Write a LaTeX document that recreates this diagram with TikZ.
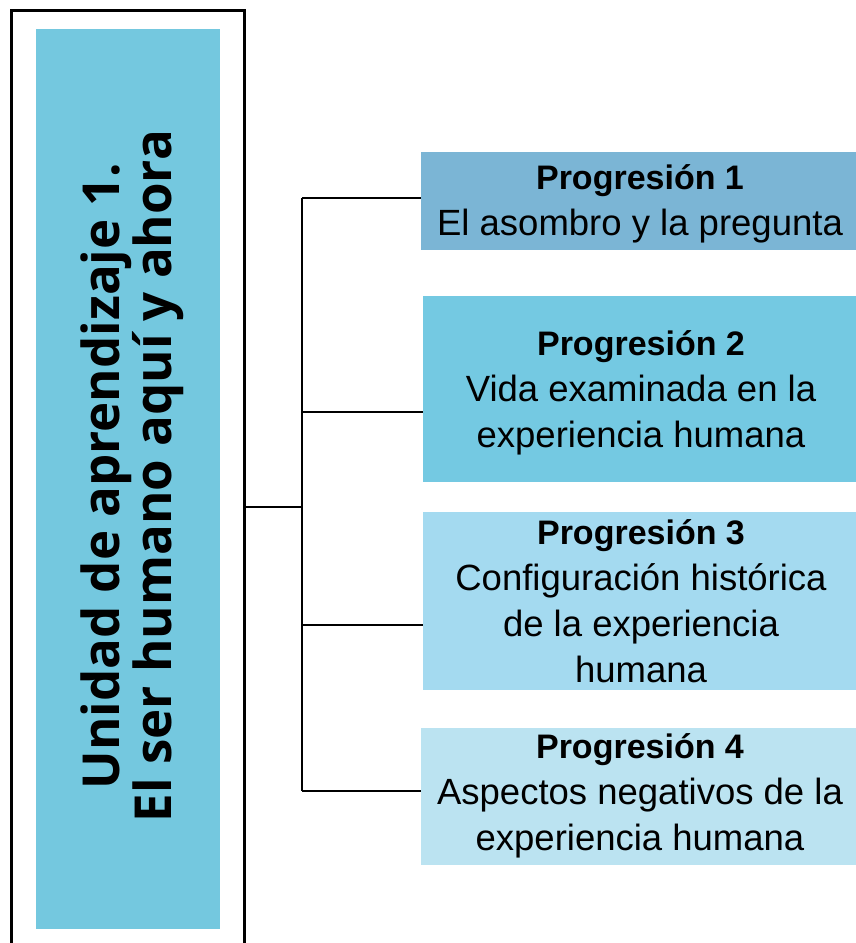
\documentclass[tikz,border=0pt]{standalone}
\usepackage{fontspec}
\setmainfont{Liberation Sans}
\newfontfamily\titlefont{Open Sans}
\definecolor{titlefill}{RGB}{116,200,223}
\definecolor{cone}{RGB}{123,181,213}
\definecolor{ctwo}{RGB}{116,201,226}
\definecolor{cthree}{RGB}{164,218,240}
\definecolor{cfour}{RGB}{187,227,241}
\begin{document}
\begin{tikzpicture}[x=1pt,y=-1pt,
  pbox/.style={rectangle, draw=none, inner sep=0pt, minimum width=#1},
  lbl/.style={align=center, inner sep=0pt, font=\fontsize{36.5}{46}\selectfont},
  conn/.style={draw=black, line width=1.5pt}]
\useasboundingbox (0,0) rectangle (856,943);
% outer frame and title box
\path[draw=black, line width=2.6pt] (11.3,943) -- (11.3,10.5) -- (244.7,10.5) -- (244.7,943);
\node[rectangle, fill=titlefill, inner sep=0pt, minimum width=184pt, minimum height=900pt] (tb) at (128,479) {};
\node[rotate=90, align=center, inner sep=0pt, font=\titlefont\bfseries\fontsize{51}{50}\selectfont] (title) at (132,476) {Unidad de aprendizaje 1.\\El ser humano aquí y ahora};
% boxes
\node[pbox=435pt, fill=cone, minimum height=98pt] (p1) at (638.5,201) {};
\node[pbox=433pt, fill=ctwo, minimum height=186pt] (p2) at (639.5,389) {};
\node[pbox=433pt, fill=cthree, minimum height=178pt] (p3) at (639.5,601) {};
\node[pbox=435pt, fill=cfour, minimum height=137pt] (p4) at (638.5,796.5) {};
% labels
\node[lbl] (t1) at (640,204) {{\bfseries\fontsize{34}{46}\selectfont Progresión 1}\\El asombro y la pregunta};
\node[lbl] (t2) at (641,392.5) {{\bfseries\fontsize{34}{46}\selectfont Progresión 2}\\Vida examinada en la\\experiencia humana};
\node[lbl] (t3) at (641,601.5) {{\bfseries\fontsize{34}{46}\selectfont Progresión 3}\\Configuración histórica\\de la experiencia\\humana};
\node[lbl] (t4) at (640,796) {{\bfseries\fontsize{34}{46}\selectfont Progresión 4}\\Aspectos negativos de la\\experiencia humana};
% connectors
\coordinate (f) at (244.7,507);
\coordinate (j) at (302,507);
\coordinate (b1) at (p1.west |- 0,198);
\coordinate (b2) at (p2.west |- 0,412);
\coordinate (b3) at (p3.west |- 0,625);
\coordinate (b4) at (p4.west |- 0,791);
\draw[conn] (f) -- (j);
\draw[conn] (j |- b1) -- (j |- b4);
\draw[conn] (j |- b1) -- (b1);
\draw[conn] (j |- b2) -- (b2);
\draw[conn] (j |- b3) -- (b3);
\draw[conn] (j |- b4) -- (b4);
\end{tikzpicture}
\end{document}
